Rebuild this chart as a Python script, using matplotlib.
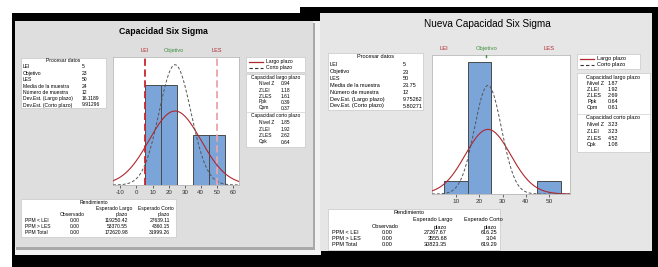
import numpy as np
import matplotlib
matplotlib.use('Agg')
import matplotlib.pyplot as plt
from matplotlib.patches import Rectangle
from matplotlib.transforms import blended_transform_factory

plt.rcParams['font.family'] = ['Liberation Sans', 'DejaVu Sans']
plt.rcParams['axes.unicode_minus'] = False

W, H = 658, 267

# --- data read from the two Minitab screens ---
bin_edges = [5, 15, 25, 35, 45, 55]
counts_before = [4, 4, 0, 2, 2]
counts_after = [1, 10, 0, 0, 1]
lei, objetivo, les = 5, 23, 50
mean_before, sd_lt_before, sd_st_before = 24, 16.1189, 9.91296
mean_after, sd_lt_after, sd_st_after = 23.75, 9.75262, 5.80271
n_muestra = 12

proc_labels = ['LEI', 'Objetivo', 'LES', 'Media de la muestra', 'Número de muestra',
               'Dev.Est. (Largo plazo)', 'Dev.Est. (Corto plazo)']
proc_before = ['5', '23', '50', '24', '12', '16.1189', '9.91296']
proc_after = ['5', '23', '50', '23.75', '12', '9.75262', '5.80271']

lt_labels = ['Nivel Z', 'Z.LEI', 'Z.LES', 'Ppk', 'Cpm']
lt_before = ['0.94', '1.18', '1.61', '0.39', '0.37']
lt_after = ['1.87', '1.92', '2.69', '0.64', '0.61']
st_labels = ['Nivel Z', 'Z.LEI', 'Z.LES', 'Cpk']
st_before = ['1.85', '1.92', '2.62', '0.64']
st_after = ['3.23', '3.23', '4.52', '1.08']

ppm_labels = ['PPM < LEI', 'PPM > LES', 'PPM Total']
observado = ['0.00', '0.00', '0.00']
lt_ppm_before = ['119250.42', '53370.55', '172620.98']
st_ppm_before = ['27639.11', '4360.15', '31999.26']
lt_ppm_after = ['27267.67', '3555.68', '30823.35']
st_ppm_after = ['616.25', '3.04', '619.29']

BAR = '#7ba4d9'
RED = '#b0282e'
GREEN = '#3f8f3f'


def px_axes(fig, x0, y0, x1, y1):
    return fig.add_axes([x0 / W, 1 - y1 / H, (x1 - x0) / W, (y1 - y0) / H])


def box(bg, x0, y0, x1, y1, fc='white', ec='#c8c8c8'):
    bg.add_patch(Rectangle((x0, y0), x1 - x0, y1 - y0, fc=fc, ec=ec, lw=0.5))


def normal(x, mu, sd):
    return n_muestra * 10 * np.exp(-0.5 * ((x - mu) / sd) ** 2) / (sd * np.sqrt(2 * np.pi))


def histogram(fig, rect, counts, mu, sd_lt, sd_st, xlim, ylim, ticks, fs, spec_lines):
    ax = px_axes(fig, *rect)
    ax.bar(bin_edges[:-1], counts, width=10, align='edge', color=BAR,
           edgecolor='#4a4a4a', linewidth=0.7, zorder=2)
    xs = np.linspace(xlim[0], xlim[1], 400)
    ax.plot(xs, normal(xs, mu, sd_lt), color=RED, lw=0.8, zorder=3)
    ax.plot(xs, normal(xs, mu, sd_st), color='#555555', lw=0.7, ls=(0, (3, 2)), zorder=3)
    if spec_lines:
        ax.axvline(lei, color='#c8262e', lw=1.3, ls=(0, (4, 2)), zorder=4)
        ax.axvline(les, color='#eba4ac', lw=1.3, ls=(0, (4, 2)), zorder=4)
    else:
        ax.plot([objetivo, objetivo], [ylim[1] * 0.985, ylim[1]], color=GREEN, lw=1.0, zorder=4)
    ax.set_xlim(*xlim)
    ax.set_ylim(*ylim)
    ax.set_yticks([])
    ax.set_xticks(ticks)
    ax.tick_params(axis='x', labelsize=fs, length=2, width=0.5, pad=1.5, colors='#333333')
    for s in ax.spines.values():
        s.set_color('#b8b8b8')
        s.set_linewidth(0.6)
    tr = blended_transform_factory(ax.transData, ax.transAxes)
    ax.text(lei, 1.03, 'LEI', color=RED, fontsize=fs - 0.4, ha='center', va='bottom', transform=tr)
    ax.text(objetivo, 1.03, 'Objetivo', color=GREEN, fontsize=fs - 0.4, ha='center', va='bottom', transform=tr)
    ax.text(les, 1.03, 'LES', color=RED, fontsize=fs - 0.4, ha='center', va='bottom', transform=tr)
    return ax


def proc_box(bg, x0, y0, x1, y1, vx, rows_y, vals, fs):
    box(bg, x0, y0, x1, y1)
    bg.text((x0 + x1) / 2, y0 + 3, 'Procesar datos', fontsize=fs, ha='center', va='center')
    for lab, v, y in zip(proc_labels, vals, rows_y):
        bg.text(x0 + 2, y, lab, fontsize=fs, va='center')
        bg.text(vx, y, v, fontsize=fs, va='center')


def legend_box(bg, x0, y0, x1, y1, fs):
    box(bg, x0, y0, x1, y1)
    ya = y0 + (y1 - y0) * 0.3
    yb = y0 + (y1 - y0) * 0.72
    bg.plot([x0 + 3, x0 + 17], [ya, ya], color=RED, lw=0.9)
    bg.plot([x0 + 3, x0 + 17], [yb, yb], color='#333333', lw=0.8, ls=(0, (3, 2)))
    bg.text(x0 + 20, ya, 'Largo plazo', fontsize=fs, va='center')
    bg.text(x0 + 20, yb, 'Corto plazo', fontsize=fs, va='center')


def cap_box(bg, x0, y0, x1, y1, lx, vx, lt_y, st_head, st_y, ltv, stv, fs):
    box(bg, x0, y0, x1, y1)
    bg.text((x0 + x1) / 2, y0 + 4, 'Capacidad largo plazo', fontsize=fs, ha='center', va='center')
    for lab, v, y in zip(lt_labels, ltv, lt_y):
        bg.text(lx, y, lab, fontsize=fs, va='center')
        bg.text(vx, y, v, fontsize=fs, va='center')
    bg.plot([x0, x1], [st_head - 4, st_head - 4], color='#d0d0d0', lw=0.5)
    bg.text((x0 + x1) / 2, st_head, 'Capacidad corto plazo', fontsize=fs, ha='center', va='center')
    for lab, v, y in zip(st_labels, stv, st_y):
        bg.text(lx, y, lab, fontsize=fs, va='center')
        bg.text(vx, y, v, fontsize=fs, va='center')


def ppm_box(bg, x0, y0, x1, y1, cols, heads_y, rows_y, ltv, stv, fs):
    box(bg, x0, y0, x1, y1)
    cx_obs, cx_lt, cx_st = cols
    bg.text((x0 + x1) / 2 - 5, heads_y[0], 'Rendimiento', fontsize=fs, ha='center', va='center')
    bg.text(cx_lt - 14, heads_y[1], 'Esperado Largo', fontsize=fs, ha='center', va='center')
    bg.text(cx_st - 14, heads_y[1], 'Esperado Corto', fontsize=fs, ha='center', va='center')
    bg.text(cx_obs - 8, heads_y[2], 'Observado', fontsize=fs, ha='center', va='center')
    bg.text(cx_lt, heads_y[2], 'plazo', fontsize=fs, ha='right', va='center')
    bg.text(cx_st, heads_y[2], 'plazo', fontsize=fs, ha='right', va='center')
    for lab, o, a, b, y in zip(ppm_labels, observado, ltv, stv, rows_y):
        bg.text(x0 + 4, y, lab, fontsize=fs, va='center')
        bg.text(cx_obs, y, o, fontsize=fs, ha='right', va='center')
        bg.text(cx_lt, y, a, fontsize=fs, ha='right', va='center')
        bg.text(cx_st, y, b, fontsize=fs, ha='right', va='center')


fig = plt.figure(figsize=(W / 100, H / 100), dpi=100)
bg = fig.add_axes([0, 0, 1, 1])
bg.set_xlim(0, W)
bg.set_ylim(H, 0)
bg.axis('off')

# frames of the two screenshots
bg.add_patch(Rectangle((12, 13), W - 12, H - 13, fc='black', ec='none'))
bg.add_patch(Rectangle((300, 7), W - 300, 8, fc='black', ec='none'))
bg.add_patch(Rectangle((15, 21), 306, 234, fc='#f2f2f2', ec='none'))
bg.add_patch(Rectangle((16, 23), 299, 227, fc='#a9a9a9', ec='none'))
bg.add_patch(Rectangle((15, 21), 298, 226, fc='#dedede', ec='none'))
bg.add_patch(Rectangle((320, 13), 332, 238, fc='#e6e6e6', ec='none'))

# left: before
bg.text(163, 31, 'Capacidad Six Sigma', fontsize=6.3, fontweight='bold', ha='center', va='center')
proc_box(bg, 21, 58, 106, 108, 82, [67, 73.3, 79.6, 86, 92.3, 98.6, 105], proc_before, 3.6)
histogram(fig, (113, 57, 239, 185), counts_before, mean_before, sd_lt_before, sd_st_before,
          (-14.6, 63.8), (0, 5.14), range(-10, 61, 10), 4.4, True)
legend_box(bg, 246, 57, 305, 72, 3.6)
cap_box(bg, 246, 74, 305, 147, 259, 281,
        [83.5, 90.5, 96.5, 102, 108], 116, [123, 129.3, 135.6, 142], lt_before, st_before, 3.5)
ppm_box(bg, 21, 199, 176, 237, (80, 128, 170), (202.5, 208.5, 214.5), (221, 227, 233),
        lt_ppm_before, st_ppm_before, 3.6)

# right: after
bg.text(487, 24, 'Nueva Capacidad Six Sigma', fontsize=7.2, ha='center', va='center')
proc_box(bg, 328, 53, 423, 110, 403, [65, 72, 78.8, 85.6, 92.4, 99.2, 106], proc_after, 4.0)
histogram(fig, (432, 55, 570, 194), counts_after, mean_after, sd_lt_after, sd_st_after,
          (-0.3, 59), (0, 10.56), range(10, 51, 10), 4.6, False)
legend_box(bg, 577, 54, 640, 69, 4.0)
cap_box(bg, 577, 73, 650, 152, 587, 608,
        [83.5, 89.5, 95.5, 101.5, 107.5], 118, [125, 131.5, 138, 144.5], lt_after, st_after, 3.9)
ppm_box(bg, 328, 209, 500, 250, (393, 447, 497), (212.5, 219.5, 227), (232.5, 239, 245),
        lt_ppm_after, st_ppm_after, 4.0)

fig.savefig('out.png', dpi=100)
